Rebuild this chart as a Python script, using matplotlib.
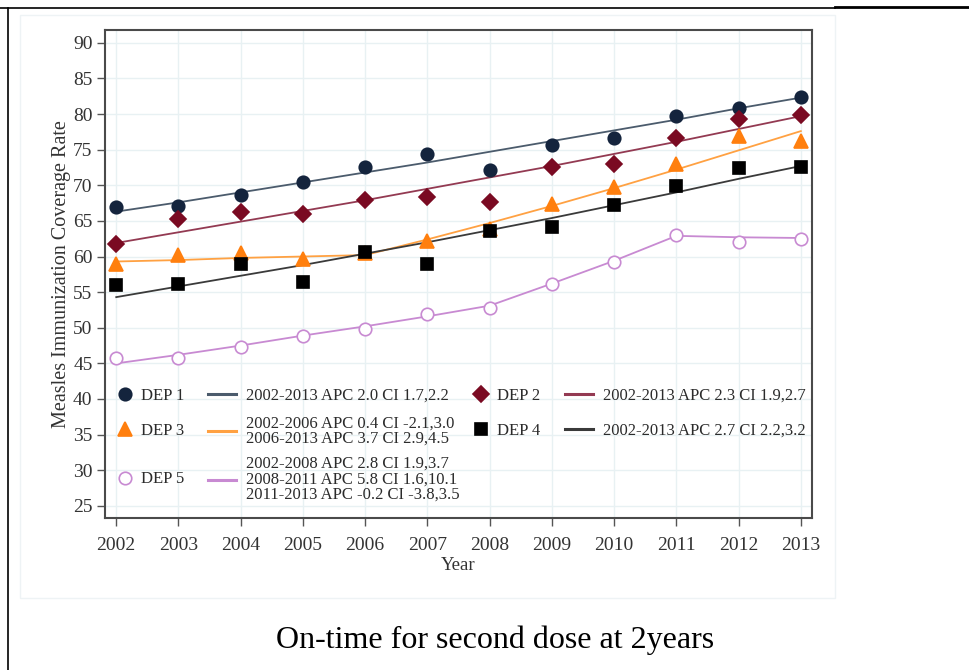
import numpy as np
import matplotlib
matplotlib.use("Agg")
import matplotlib.pyplot as plt
from matplotlib.lines import Line2D
from matplotlib.patches import Rectangle
from matplotlib.legend import Legend

plt.rcParams['font.family'] = ['Liberation Serif', 'DejaVu Serif']

years = list(range(2002, 2014))

dep1 = [67.0, 67.1, 68.6, 70.4, 72.6, 74.4, 72.2, 75.6, 76.6, 79.7, 80.9, 82.4]
dep2 = [61.7, 65.2, 66.3, 66.0, 67.9, 68.4, 67.7, 72.5, 73.0, 76.7, 79.3, 79.9]
dep3 = [58.9, 60.2, 60.5, 59.6, 60.5, 62.2, 63.8, 67.4, 69.8, 73.0, 76.9, 76.2]
dep4 = [56.0, 56.2, 59.0, 56.4, 60.6, 58.9, 63.6, 64.1, 67.2, 69.9, 72.4, 72.6]
dep5 = [45.7, 45.8, 47.3, 48.8, 49.8, 52.0, 52.8, 56.2, 59.2, 63.0, 62.0, 62.5]

# joinpoint fitted values
fit1 = [66.3, 67.6, 69.0, 70.4, 71.8, 73.2, 74.7, 76.2, 77.7, 79.2, 80.8, 82.3]
fit2 = [61.9, 63.4, 64.9, 66.4, 67.9, 69.5, 71.1, 72.7, 74.4, 76.1, 77.9, 79.7]
fit3 = [59.3, 59.5, 59.8, 60.0, 60.2, 62.4, 64.7, 67.1, 69.6, 72.2, 74.9, 77.6]
fit4 = [54.3, 55.8, 57.3, 58.8, 60.4, 62.0, 63.7, 65.4, 67.2, 69.0, 70.9, 72.7]
fit5 = [45.0, 46.2, 47.5, 48.9, 50.2, 51.6, 53.1, 56.2, 59.4, 62.9, 62.7, 62.6]

dep_labels = ["DEP 1", "DEP 2", "DEP 3", "DEP 4", "DEP 5"]
fit_labels = ["2002-2013 APC 2.0 CI 1.7,2.2",
              "2002-2013 APC 2.3 CI 1.9,2.7",
              "2002-2006 APC 0.4 CI -2.1,3.0\n2006-2013 APC 3.7 CI 2.9,4.5",
              "2002-2013 APC 2.7 CI 2.2,3.2",
              "2002-2008 APC 2.8 CI 1.9,3.7\n2008-2011 APC 5.8 CI 1.6,10.1\n2011-2013 APC -0.2 CI -3.8,3.5"]
yticks = list(range(25, 95, 5))

fig = plt.figure(figsize=(9.69, 6.7), dpi=100)

# page frame bits
fig.add_artist(Line2D([0.0, 0.862], [0.988, 0.988], color='black', lw=1.2, transform=fig.transFigure))
fig.add_artist(Line2D([0.862, 1.0], [0.989, 0.989], color='black', lw=2.0, transform=fig.transFigure))
fig.add_artist(Line2D([0.0085, 0.0085], [0.0, 0.988], color='black', lw=1.2, transform=fig.transFigure))
fig.add_artist(Rectangle((0.021, 0.108), 0.841, 0.87, transform=fig.transFigure,
                         fill=False, edgecolor='#eef3f5', lw=1.0))

ax = fig.add_axes([0.1084, 0.2269, 0.7296, 0.7284])

series = [
    (dep1, fit1, 'o', '#14243d', '#14243d', '#4b5b6c', 9),
    (dep2, fit2, 'D', '#7a0a22', '#7a0a22', '#933a52', 8),
    (dep3, fit3, '^', '#ff7f0e', '#ff7f0e', '#ffa142', 10),
    (dep4, fit4, 's', '#000000', '#000000', '#3a3a3a', 8.5),
    (dep5, fit5, 'o', 'white', '#c88ad2', '#c88ad2', 9),
]

handles = []
for obs, fit, mk, fc, ec, lc, ms in series:
    ln, = ax.plot(years, fit, color=lc, lw=1.3, zorder=2)
    pt, = ax.plot(years, obs, linestyle='none', marker=mk, markersize=ms,
                  markerfacecolor=fc, markeredgecolor=ec, markeredgewidth=1.2, zorder=3)
    handles.append((pt, ln))

ax.set_xlim(2001.82, 2013.18)
ax.set_ylim(23.3, 91.8)
ax.set_xticks(years)
ax.set_yticks(yticks)
ax.grid(True, color='#e8f1f3', lw=1.0)
ax.set_axisbelow(True)
for s in ax.spines.values():
    s.set_color('#4a4a4a')
    s.set_linewidth(1.5)
ax.tick_params(axis='both', direction='out', length=6, width=1.0, color='#555555',
               labelsize=14, labelcolor='#333333', pad=3)
ax.tick_params(axis='x', pad=8)
ax.set_xlabel("Year", fontsize=13.5, color='#333333', labelpad=2)
ax.set_ylabel("Measles Immunization Coverage Rate", fontsize=14.5, color='#333333', labelpad=1.5)

# legend cells, laid out as in the original 4-column grid
col_x = [0.0170, 0.1457, 0.5205, 0.6507]
row_y = [0.2500, 0.1780, 0.0790]
cells = [(0, 0, 0), (0, 2, 1), (1, 0, 2), (1, 2, 3), (2, 0, 4)]
for row, col, i in cells:
    pt, ln = handles[i]
    leg = Legend(ax, [pt], [dep_labels[i]], loc='center left',
                 bbox_to_anchor=(col_x[col], row_y[row]), frameon=False,
                 borderpad=0, borderaxespad=0, handlelength=1.0, handletextpad=0.45,
                 fontsize=12, labelcolor='#2b2b2b')
    ax.add_artist(leg)
    leg = Legend(ax, [ln], [fit_labels[i]], loc='center left',
                 bbox_to_anchor=(col_x[col + 1], row_y[row]), frameon=False,
                 borderpad=0, borderaxespad=0, handlelength=1.7, handletextpad=0.6,
                 fontsize=12, labelcolor='#2b2b2b')
    for t in leg.get_texts():
        t.set_linespacing(0.95)
    for h in leg.legend_handles:
        h.set_linewidth(2.2)
    ax.add_artist(leg)

fig.text(0.511, 0.045, "On-time for second dose at 2years", ha='center', va='center',
         fontsize=23, color='black')

fig.savefig("out.png", dpi=100)
